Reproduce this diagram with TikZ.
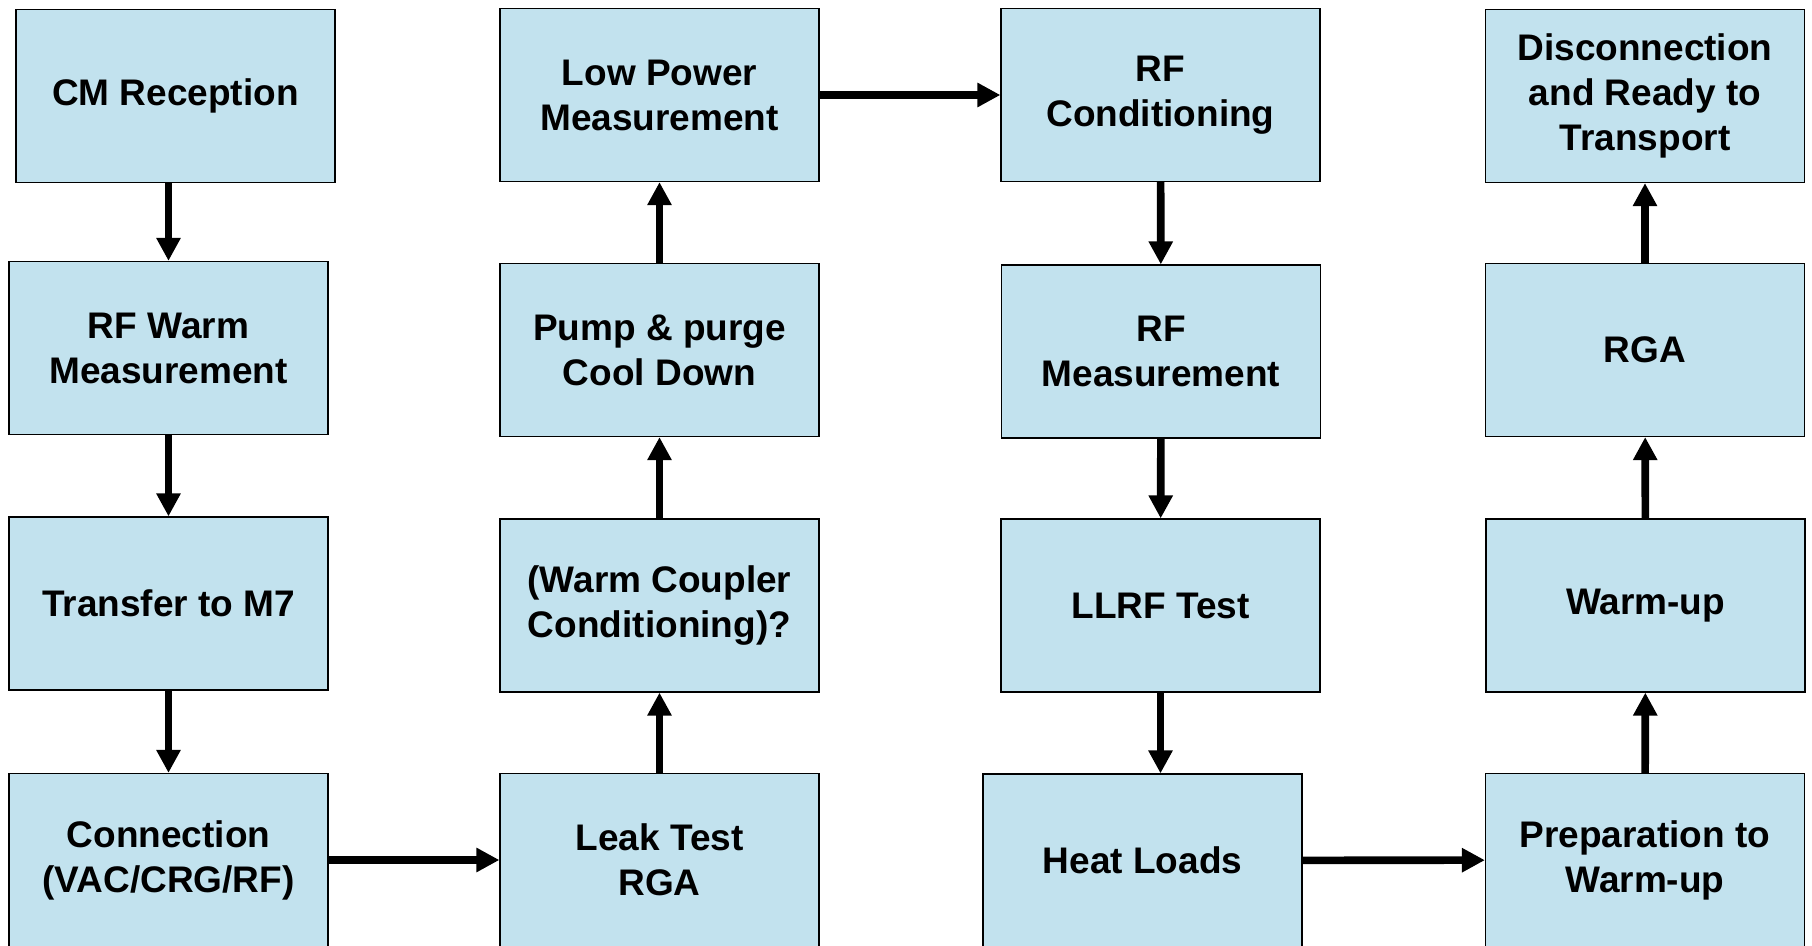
\documentclass[tikz,border=0pt]{standalone}
\usepackage{fontspec}
\setmainfont{Liberation Sans}
\usetikzlibrary{arrows.meta}
\definecolor{boxblue}{RGB}{194,226,238}
\begin{document}
\begin{tikzpicture}[x=0.5pt,y=-0.5pt]
	 \tikzstyle{stage}=[rectangle,draw=black,line width=0.6pt,fill=boxblue,minimum width=159.5pt,minimum height=86.5pt,inner sep=2pt,align=center,font=\fontsize{18.5}{22.5}\selectfont\bfseries]
	 \tikzstyle{flow} = [draw,line width=3.8pt,-{Triangle[width=11.5pt,length=11.5pt]},black]

	 \useasboundingbox (0,0) rectangle (1812,946);

	 % first column
	 \node[stage] (cm) at (175.5,96) {CM Reception};
	 \node[stage] (rfwarm) at (168.5,348) {RF Warm\\Measurement};
	 \node[stage] (transfer) at (168.5,603.5) {Transfer to M7};
	 \node[stage] (conn) at (168.5,860) {Connection\\(VAC/CRG/RF)};

	 % second column
	 \node[stage] (lowpow) at (659.5,95) {Low Power\\Measurement};
	 \node[stage] (pump) at (659.5,350) {Pump \& purge\\Cool Down};
	 \node[stage] (coupler) at (659.5,605.5) {(Warm Coupler\\Conditioning)?};
	 \node[stage] (leak) at (659.5,860) {Leak Test\\RGA};

	 % third column
	 \node[stage] (rfcond) at (1160.5,95) {RF\\Conditioning};
	 \node[stage] (rfmeas) at (1161,351.5) {RF\\Measurement};
	 \node[stage] (llrf) at (1160.5,605.5) {LLRF Test};
	 \node[stage] (heat) at (1142.5,860.5) {Heat Loads};

	 % fourth column
	 \node[stage] (disc) at (1645,96) {Disconnection\\and Ready to\\Transport};
	 \node[stage] (rga) at (1645,350) {RGA};
	 \node[stage] (warmup) at (1645.5,605.5) {Warm-up};
	 \node[stage] (prep) at (1645,860) {Preparation to\\Warm-up};

	 \draw[flow] (rfwarm.north |- cm.south) -- (rfwarm.north);
	 \draw[flow] (rfwarm) -- (transfer);
	 \draw[flow] (transfer) -- (conn);
	 \draw[flow] (conn) -- (leak);
	 \draw[flow] (leak) -- (coupler);
	 \draw[flow] (coupler) -- (pump);
	 \draw[flow] (pump) -- (lowpow);
	 \draw[flow] (lowpow) -- (rfcond);
	 \draw[flow] (rfcond) -- (rfmeas);
	 \draw[flow] (rfmeas) -- (llrf);
	 \draw[flow] (llrf.south) -- (llrf.south |- heat.north);
	 \draw[flow] (heat) -- (prep);
	 \draw[flow] (prep) -- (warmup);
	 \draw[flow] (warmup) -- (rga);
	 \draw[flow] (rga) -- (disc);
\end{tikzpicture}
\end{document}
